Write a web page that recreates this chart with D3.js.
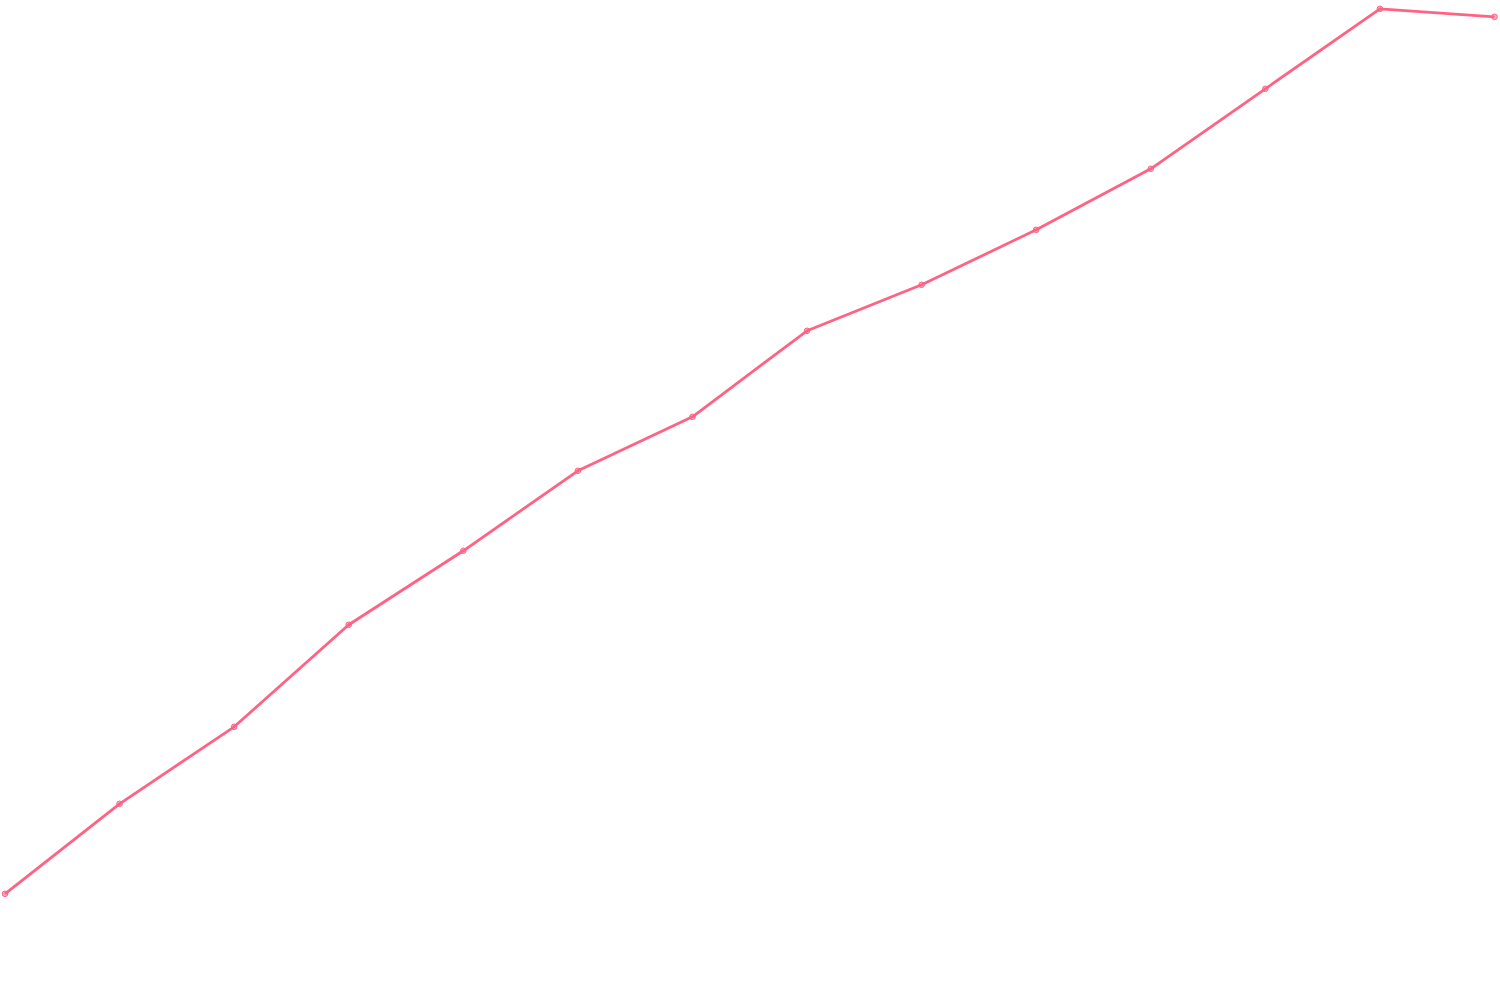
<!DOCTYPE html>
<html>
<head>
<meta charset="utf-8">
<script src="https://cdn.jsdelivr.net/npm/d3@7"></script>
<style>
  html, body { margin: 0; padding: 0; background: #fff; }
  svg { display: block; }
</style>
</head>
<body>
<svg id="chart" width="1500" height="1000"></svg>
<script>
const categories = ["1","2","3","4","5","6","7","8","9","10","11","12","13","14"];
const values = [107, 197, 274, 376, 450, 530, 584, 670, 716, 771, 832, 912, 992, 984];

const svg = d3.select("#chart");
const x = d3.scalePoint().domain(categories).range([5, 1494.5]);
const y = d3.scaleLinear().domain([0, 1000]).range([1000.8, 0.8]);

const data = categories.map((c, i) => ({ c, v: values[i] }));

svg.append("path")
  .datum(data)
  .attr("fill", "none")
  .attr("stroke", "rgb(255,99,132)")
  .attr("stroke-width", 2.8)
  .attr("stroke-linejoin", "round")
  .attr("d", d3.line().x(d => x(d.c)).y(d => y(d.v)));

svg.selectAll("circle")
  .data(data)
  .join("circle")
  .attr("cx", d => x(d.c))
  .attr("cy", d => y(d.v))
  .attr("r", 2.8)
  .attr("fill", "rgba(255,99,132,0.5)")
  .attr("stroke", "rgb(255,99,132)")
  .attr("stroke-width", 1);
</script>
</body>
</html>
